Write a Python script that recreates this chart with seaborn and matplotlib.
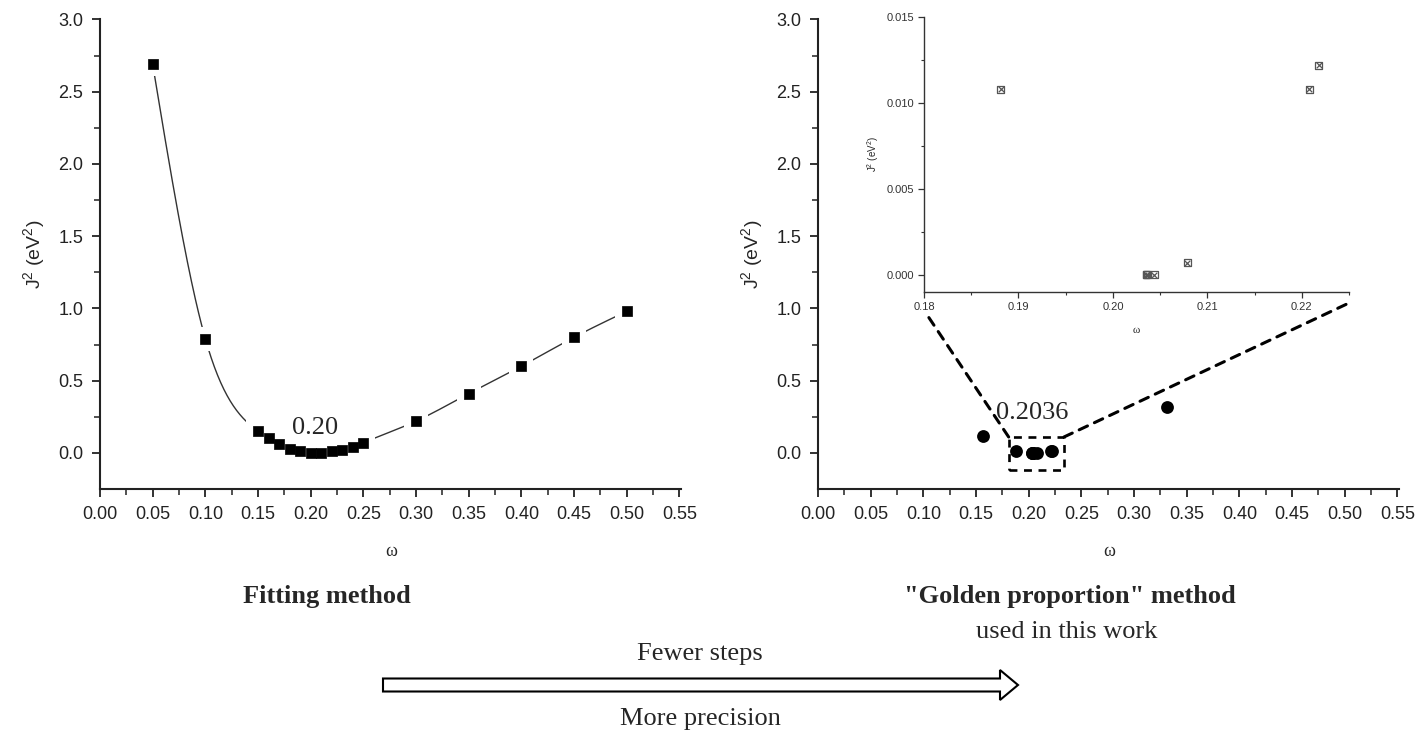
import numpy as np
import pandas as pd
import matplotlib
matplotlib.use("Agg")
import matplotlib.pyplot as plt
import seaborn as sns
from matplotlib.patches import Rectangle, ConnectionPatch, FancyArrow

# ---------------- data ----------------
fit_w = [0.05, 0.10, 0.15, 0.16, 0.17, 0.18, 0.19, 0.20, 0.21, 0.22, 0.23, 0.24, 0.25,
         0.30, 0.35, 0.40, 0.45, 0.50]
fit_j2 = [2.69, 0.79, 0.15, 0.10, 0.06, 0.03, 0.01, 0.0, 0.0, 0.01, 0.02, 0.04, 0.07,
          0.22, 0.41, 0.60, 0.80, 0.98]

gold_w = [0.157, 0.331, 0.1881, 0.2035, 0.2036, 0.2037, 0.2044, 0.2079, 0.2208, 0.2218]
gold_j2 = [0.12, 0.32, 0.0108, 0.0, 0.0, 0.0, 0.0, 0.0007, 0.0108, 0.0122]

x_ticks = [0.00, 0.05, 0.10, 0.15, 0.20, 0.25, 0.30, 0.35, 0.40, 0.45, 0.50, 0.55]
y_ticks = [0.0, 0.5, 1.0, 1.5, 2.0, 2.5, 3.0]
inset_x_ticks = [0.18, 0.19, 0.20, 0.21, 0.22]
inset_y_ticks = [0.000, 0.005, 0.010, 0.015]

fit_label = "0.20"
gold_label = "0.2036"

# ---------------- helpers ----------------
def natural_spline(x, y, xs):
    x = np.asarray(x, float); y = np.asarray(y, float)
    n = len(x); h = np.diff(x)
    A = np.zeros((n, n)); r = np.zeros(n)
    A[0, 0] = A[-1, -1] = 1
    for i in range(1, n - 1):
        A[i, i - 1] = h[i - 1]; A[i, i] = 2 * (h[i - 1] + h[i]); A[i, i + 1] = h[i]
        r[i] = 3 * ((y[i + 1] - y[i]) / h[i] - (y[i] - y[i - 1]) / h[i - 1])
    c = np.linalg.solve(A, r)
    b = (y[1:] - y[:-1]) / h - h * (2 * c[:-1] + c[1:]) / 3
    d = (c[1:] - c[:-1]) / (3 * h)
    idx = np.clip(np.searchsorted(x, xs) - 1, 0, n - 2)
    dx = xs - x[idx]
    return y[idx] + b[idx] * dx + c[idx] * dx ** 2 + d[idx] * dx ** 3

sns.set_theme(style="ticks")
plt.rcParams['font.family'] = ['Liberation Sans', 'DejaVu Sans']
plt.rcParams['mathtext.fontset'] = 'custom'
plt.rcParams['mathtext.rm'] = 'Liberation Sans'
plt.rcParams['mathtext.it'] = 'Liberation Sans:italic'

SERIF = ['Liberation Serif', 'DejaVu Serif']

fig = plt.figure(figsize=(14.18, 7.36), dpi=100)
W, H = 1418, 736

def fx(px): return px / W
def fy(py): return 1 - py / H

XMAX = 0.552
PX_PER_UNIT = 1053.4
AX_W = XMAX * PX_PER_UNIT

ax1 = fig.add_axes([fx(100), fy(489), AX_W / W, (489 - 19.5) / H])
ax2 = fig.add_axes([fx(818), fy(489), AX_W / W, (489 - 19.5) / H])

def style_main(ax):
    ax.set_xlim(0, XMAX)
    ax.set_ylim(-0.25, 3.0)
    ax.set_xticks(x_ticks)
    ax.set_xticklabels([f"{v:.2f}" for v in x_ticks])
    ax.set_yticks(y_ticks)
    ax.set_yticklabels([f"{v:.1f}" for v in y_ticks])
    ax.set_xticks(np.arange(0.025, 0.55, 0.05), minor=True)
    ax.set_yticks(np.arange(0.25, 3.0, 0.5), minor=True)
    for s in ['top', 'right']:
        ax.spines[s].set_visible(False)
    for s in ['left', 'bottom']:
        ax.spines[s].set_linewidth(1.5)
        ax.spines[s].set_color('#222222')
    ax.tick_params(which='major', direction='out', length=6, width=1.3, labelsize=13,
                   colors='#222222', pad=6)
    ax.tick_params(which='minor', direction='out', length=4, width=1.1, colors='#222222')
    ax.set_xlabel("ω", fontsize=13, family=SERIF, labelpad=15)
    ax.set_ylabel(r"J$^2$ (eV$^2$)", fontsize=14, labelpad=8)
    ax.set_facecolor('white')

# ---------------- left: fitting method ----------------
xs = np.linspace(fit_w[0], fit_w[-1], 600)
curve = pd.DataFrame({"w": xs, "j": natural_spline(fit_w, fit_j2, xs)})
df_fit = pd.DataFrame({"w": fit_w, "j": fit_j2})
sns.lineplot(data=curve, x="w", y="j", ax=ax1, color='#333333', linewidth=1.0)
sns.scatterplot(data=df_fit, x="w", y="j", ax=ax1, marker='s', s=290, color='white',
                edgecolor='white', linewidth=0, zorder=3)
sns.scatterplot(data=df_fit, x="w", y="j", ax=ax1, marker='s', s=55, color='black',
                edgecolor='black', linewidth=0.5, zorder=4)
style_main(ax1)
ax1.text(0.2045, 0.17, fit_label, family=SERIF, fontsize=19, ha='center', va='center')

# ---------------- right: golden proportion method ----------------
df_gold = pd.DataFrame({"w": gold_w, "j": gold_j2})
sns.scatterplot(data=df_gold, x="w", y="j", ax=ax2, marker='o', s=85, color='black',
                edgecolor='black', linewidth=0, zorder=4)
style_main(ax2)
ax2.text(0.2035, 0.275, gold_label, family=SERIF, fontsize=19, ha='center', va='center')
box = Rectangle((0.181, -0.117), 0.0525, 0.227, fill=False, edgecolor='black',
                linestyle=(0, (3, 2.5)), linewidth=1.9, zorder=5)
ax2.add_patch(box)

# inset
axi = fig.add_axes([fx(924), fy(292), (1349 - 924) / W, (292 - 17) / H])
axi.set_facecolor('white')
in_mask = [(0.18 <= w <= 0.225) and (j <= 0.015) for w, j in zip(gold_w, gold_j2)]
df_in = df_gold[in_mask]
sns.scatterplot(data=df_in, x="w", y="j", ax=axi, marker='s', s=24, facecolor='none',
                edgecolor='#555555', linewidth=0.9, zorder=4)
sns.scatterplot(data=df_in, x="w", y="j", ax=axi, marker='x', s=16, color='#555555',
                linewidth=0.9, zorder=4)
axi.set_xlim(0.18, 0.225)
axi.set_ylim(-0.001, 0.015)
axi.set_xticks(inset_x_ticks)
axi.set_xticklabels([f"{v:.2f}" for v in inset_x_ticks])
axi.set_yticks(inset_y_ticks)
axi.set_yticklabels([f"{v:.3f}" for v in inset_y_ticks])
axi.set_xticks(np.arange(0.185, 0.226, 0.01), minor=True)
axi.set_yticks(np.arange(0.0025, 0.015, 0.005), minor=True)
for s in ['top', 'right']:
    axi.spines[s].set_visible(False)
for s in ['left', 'bottom']:
    axi.spines[s].set_linewidth(1.0)
    axi.spines[s].set_color('#333333')
axi.tick_params(which='major', direction='out', length=4, width=0.9, labelsize=8,
                colors='#333333', pad=3)
axi.tick_params(which='minor', direction='out', length=2.5, width=0.8, colors='#333333')
axi.set_xlabel("ω", fontsize=8, family=SERIF, labelpad=10)
axi.set_ylabel(r"J$^2$ (eV$^2$)", fontsize=7, labelpad=4)

for (bx, by), (ix, iy) in [((0.181, 0.11), (0.008, -0.085)), ((0.2335, 0.11), (1.0, -0.04))]:
    con = ConnectionPatch(xyA=(bx, by), coordsA=ax2.transData,
                          xyB=(ix, iy), coordsB=axi.transAxes,
                          linestyle=(0, (3, 2.5)), linewidth=2.2, color='black', zorder=6)
    fig.add_artist(con)

# ---------------- annotations ----------------
fig.text(fx(327), fy(597), "Fitting method", family=SERIF, fontsize=19,
         fontweight='bold', ha='center', va='center')
fig.text(fx(1070), fy(597), "\"Golden proportion\" method", family=SERIF, fontsize=19,
         fontweight='bold', ha='center', va='center')
fig.text(fx(1067), fy(632), "used in this work", family=SERIF, fontsize=19,
         ha='center', va='center')
fig.text(fx(700), fy(654), "Fewer steps", family=SERIF, fontsize=19,
         ha='center', va='center')
fig.text(fx(700), fy(719), "More precision", family=SERIF, fontsize=19,
         ha='center', va='center')

arrow = FancyArrow(fx(383), fy(685), fx(1018) - fx(383), 0, width=13 / H,
                   head_width=30 / H, head_length=18 / W, length_includes_head=True,
                   transform=fig.transFigure, facecolor='white', edgecolor='black',
                   linewidth=1.5)
fig.add_artist(arrow)

fig.savefig("out.png", dpi=100, facecolor='white')
